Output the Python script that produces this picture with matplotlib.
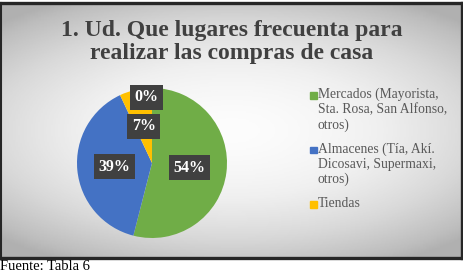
import numpy as np
import matplotlib
matplotlib.use("Agg")
import matplotlib.pyplot as plt
from matplotlib.patches import Rectangle

# datos del grafico
titulo = "1. Ud. Que lugares frecuenta para\nrealizar las compras de casa"
categorias = ["Mercados (Mayorista,\nSta. Rosa, San Alfonso,\notros)",
              "Almacenes (Tía, Akí.\nDicosavi, Supermaxi,\notros)",
              "Tiendas",
              ""]
porcentajes = [54, 39, 7, 0]
colores = ["#70AD47", "#4472C4", "#FFC000", "#A5A5A5"]
fuente = "Fuente: Tabla 6"

W, H = 464, 271
plt.rcParams["font.family"] = ["Liberation Serif", "DejaVu Serif"]

fig = plt.figure(figsize=(W / 100, H / 100), dpi=100)
fig.patch.set_facecolor("white")


def px(x, y, w, h):
    # caja en pixeles (origen arriba-izquierda) -> coords de figura
    return [x / W, 1 - (y + h) / H, w / W, h / H]


# fondo con degradado radial
bg = fig.add_axes(px(0.5, 3, 462, 254.5))
yy, xx = np.mgrid[-1:1:200j, -1:1:300j]
r = np.sqrt((xx * 0.9) ** 2 + (yy * 1.1) ** 2)
bg.imshow(0.02 + 0.26 * np.clip(r, 0, 1.3) ** 1.6, cmap="Greys", vmin=0, vmax=1,
          aspect="auto", extent=[0, 1, 0, 1])
bg.set_xticks([])
bg.set_yticks([])
for s in bg.spines.values():
    s.set_linewidth(2.4)
    s.set_color("#262626")
bg.spines["left"].set_linewidth(1.5)

fig.text(232 / W, 1 - 42 / H, titulo, ha="center", va="center",
         fontsize=17, fontweight="bold", color="#404040", linespacing=1.08)

# pastel
ax = fig.add_axes(px(77, 88, 150, 150))
wedges, textos, autotextos = ax.pie(
    porcentajes, colors=colores, startangle=90, counterclock=False,
    autopct="%1.0f%%", pctdistance=0.5, radius=1.0,
    wedgeprops=dict(linewidth=0),
    textprops=dict(color="white", fontsize=11.5, fontweight="bold"))
ax.set_xlim(-1, 1)
ax.set_ylim(-1, 1)
for t in autotextos:
    t.set_bbox(dict(boxstyle="square,pad=0.28", fc="#404040", ec="none"))
# la etiqueta de 0% va cerca del borde
for w, t, v in zip(wedges, autotextos, porcentajes):
    if v == 0:
        ang = np.deg2rad((w.theta1 + w.theta2) / 2 + 5)
        t.set_position((0.88 * np.cos(ang), 0.88 * np.sin(ang)))

# leyenda manual (cuadro alineado con la primera linea)
y = 95
for w, lab in zip(wedges[:3], categorias[:3]):
    fig.patches.append(Rectangle((310 / W, 1 - (y + 3.5) / H), 6.5 / W, 6.5 / H,
                                 transform=fig.transFigure, color=w.get_facecolor(),
                                 figure=fig))
    fig.text(318 / W, 1 - (y - 7.5) / H, lab, ha="left", va="top", fontsize=9.8,
             color="#595959", linespacing=1.2)
    y += 16.4 * (lab.count("\n") + 1) + 5.5

fig.text(0.5 / W, 1 - 259.5 / H, fuente, ha="left", va="top", fontsize=10.5,
         color="black")

fig.savefig("out.png", dpi=100)
